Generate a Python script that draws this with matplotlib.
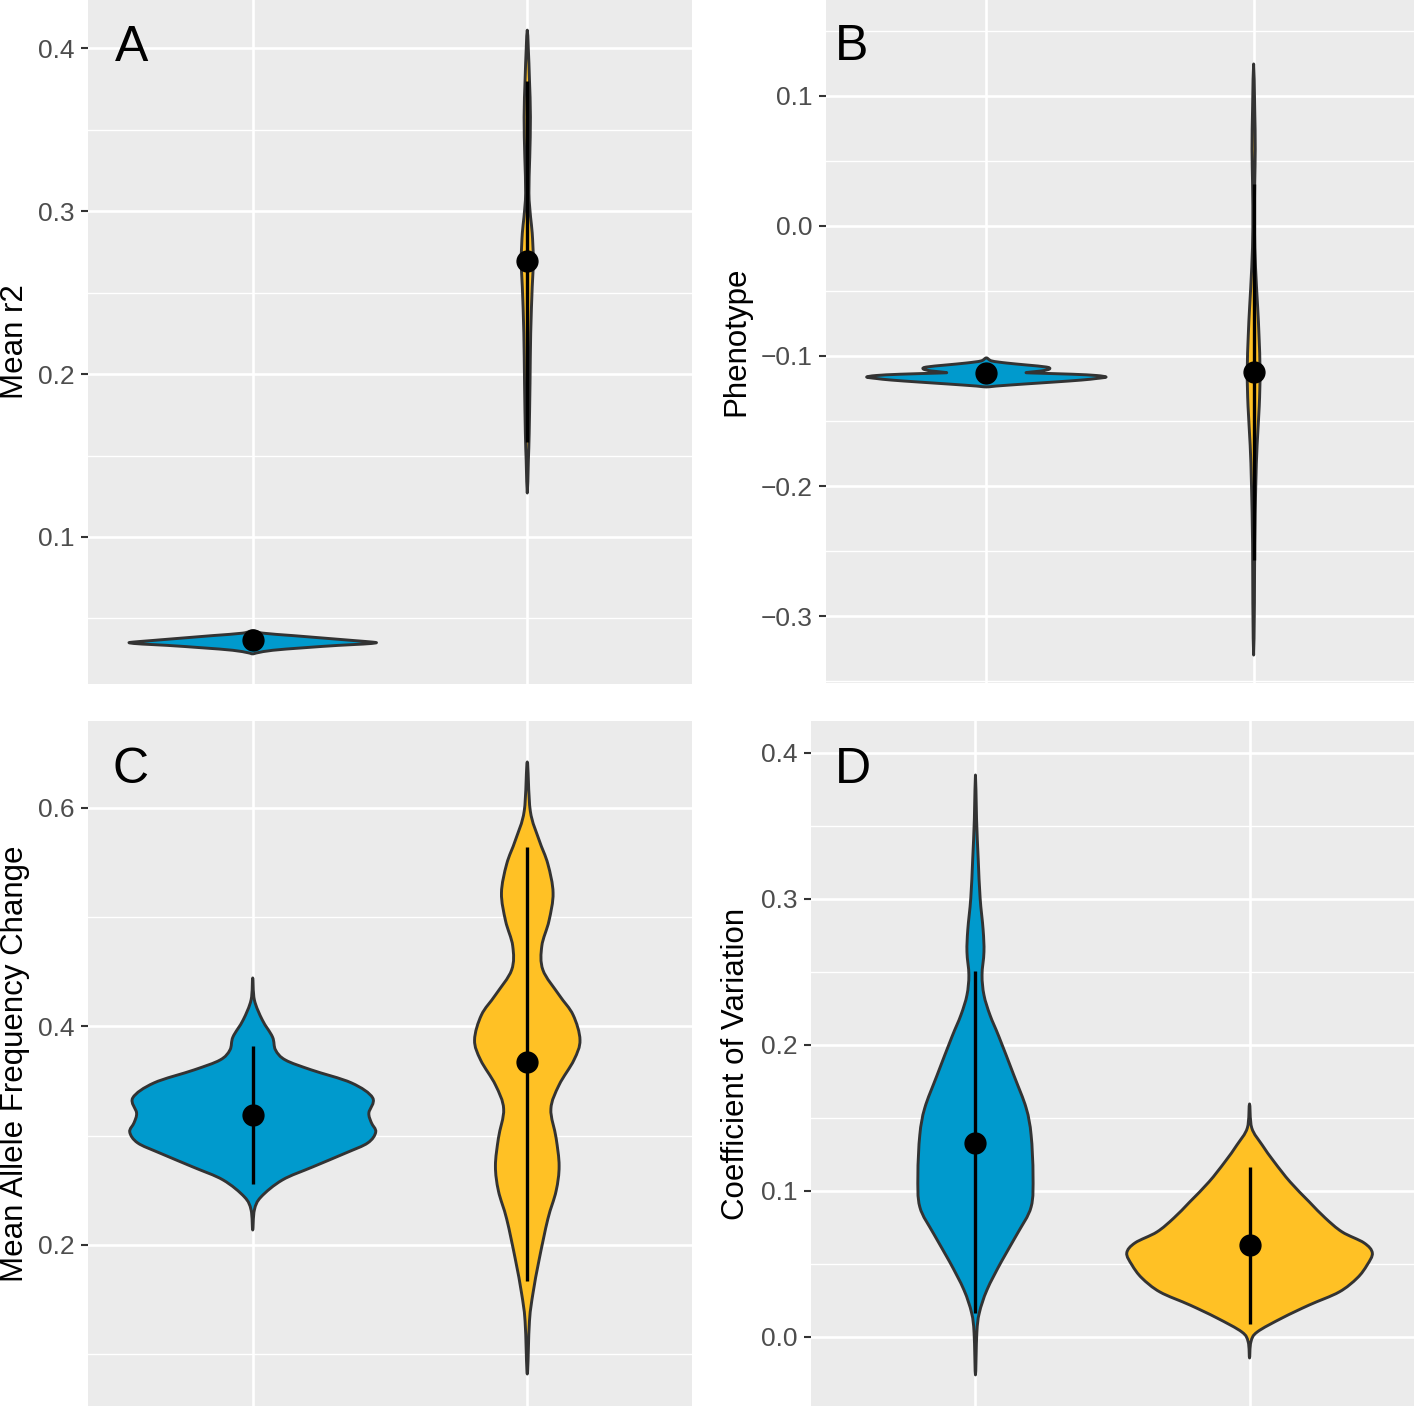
import numpy as np
import matplotlib
matplotlib.use("Agg")
import matplotlib.pyplot as plt
from matplotlib.path import Path
from matplotlib.patches import PathPatch

plt.rcParams['font.family'] = ['Liberation Sans', 'DejaVu Sans']

# ---------------- data ----------------
groups = ["group 1", "group 2"]
fill_colors = ["#009ACD", "#FFC125"]

# Panel A : Mean r2
a_g1_y = [0.0283, 0.0290, 0.0305, 0.0320, 0.0335, 0.0343, 0.0350, 0.0355, 0.0365, 0.0380, 0.0395, 0.0410, 0.0425]
a_g1_w = [0.000, 0.018, 0.073, 0.183, 0.311, 0.402, 0.448, 0.437, 0.365, 0.256, 0.146, 0.037, 0.000]
a_g2_y = [0.1270, 0.1472, 0.1638, 0.1945, 0.2252, 0.2534, 0.2699, 0.2865, 0.2963, 0.3110, 0.3331, 0.3577, 0.3804, 0.3988, 0.4110]
a_g2_w = [0.0, 0.004, 0.007, 0.010, 0.0125, 0.018, 0.022, 0.018, 0.012, 0.006, 0.009, 0.0115, 0.008, 0.004, 0.0]
a_mean = [0.0368, 0.2693]
a_lo = [0.0356, 0.158]
a_hi = [0.0380, 0.380]

# Panel B : Phenotype
b_g1_y = [-0.1238, -0.1231, -0.1215, -0.1200, -0.1185, -0.1173, -0.1162, -0.1150, -0.1140, -0.1131, -0.1127,
          -0.1115, -0.1100, -0.1085, -0.1069, -0.1054, -0.1038, -0.1015]
b_g1_w = [0.0, 0.037, 0.146, 0.255, 0.356, 0.412, 0.448, 0.412, 0.320, 0.176, 0.150,
          0.206, 0.236, 0.225, 0.150, 0.075, 0.020, 0.0]
b_g2_y = [-0.3300, -0.2900, -0.2446, -0.1992, -0.1685, -0.1385, -0.1123, -0.0838, -0.0623, -0.0315, -0.0015, 0.0323, 0.0592, 0.0900, 0.1246]
b_g2_w = [0.0, 0.003, 0.004, 0.008, 0.013, 0.021, 0.024, 0.020, 0.015, 0.007, 0.003, 0.004, 0.006, 0.004, 0.0]
b_mean = [-0.1131, -0.1123]
b_lo = [-0.1150, -0.257]
b_hi = [-0.1112, 0.032]

# Panel C : Mean Allele Frequency Change
c_g1_y = [0.2137, 0.2320, 0.2439, 0.2595, 0.2714, 0.2842, 0.2934, 0.3034, 0.3120, 0.3208, 0.3346, 0.3483, 0.3602,
          0.3693, 0.3785, 0.3904, 0.4059, 0.4243, 0.4444]
c_g1_w = [0.0, 0.006, 0.030, 0.108, 0.218, 0.339, 0.419, 0.448, 0.432, 0.423, 0.437, 0.360, 0.214,
          0.119, 0.083, 0.072, 0.035, 0.006, 0.0]
c_g2_y = [0.0819, 0.1304, 0.1561, 0.1863, 0.2238, 0.2494, 0.2723, 0.2979, 0.3245, 0.3465, 0.3693, 0.3876, 0.4105,
          0.4288, 0.4517, 0.4737, 0.4966, 0.5222, 0.5487, 0.5707, 0.5973, 0.6421]
c_g2_w = [0.0, 0.008, 0.021, 0.043, 0.075, 0.105, 0.116, 0.105, 0.086, 0.116, 0.170, 0.192, 0.167,
          0.116, 0.057, 0.053, 0.079, 0.094, 0.075, 0.043, 0.011, 0.0]
c_mean = [0.3190, 0.3675]
c_lo = [0.2558, 0.1670]
c_hi = [0.3822, 0.5643]

# Panel D : Coefficient of Variation
d_g1_y = [-0.0260, 0.0027, 0.0164, 0.0322, 0.0514, 0.0705, 0.0890, 0.1110, 0.1384, 0.1568, 0.1788, 0.2055, 0.2205,
          0.2342, 0.2479, 0.2637, 0.2788, 0.3007, 0.3274, 0.3548, 0.3849]
d_g1_w = [0.0, 0.005, 0.014, 0.042, 0.094, 0.152, 0.203, 0.210, 0.203, 0.185, 0.141, 0.086, 0.053,
          0.031, 0.024, 0.031, 0.028, 0.017, 0.010, 0.004, 0.0]
d_g2_y = [-0.0144, -0.0034, 0.0034, 0.0130, 0.0219, 0.0308, 0.0404, 0.0493, 0.0575, 0.0644, 0.0719, 0.0815,
          0.0925, 0.1062, 0.1199, 0.1315, 0.1432, 0.1596]
d_g2_w = [0.0, 0.005, 0.028, 0.119, 0.218, 0.327, 0.393, 0.429, 0.448, 0.418, 0.338, 0.276,
          0.218, 0.148, 0.090, 0.046, 0.008, 0.0]
d_mean = [0.1329, 0.0630]
d_lo = [0.0164, 0.0089]
d_hi = [0.2507, 0.1164]

# axis ticks / labels
a_ticks = [0.1, 0.2, 0.3, 0.4]
a_minor = [0.05, 0.15, 0.25, 0.35]
b_ticks = [-0.3, -0.2, -0.1, 0.0, 0.1]
b_minor = [-0.35, -0.25, -0.15, -0.05, 0.05, 0.15]
c_ticks = [0.2, 0.4, 0.6]
c_minor = [0.1, 0.3, 0.5]
d_ticks = [0.0, 0.1, 0.2, 0.3, 0.4]
d_minor = [0.05, 0.15, 0.25, 0.35]

a_ylim = (0.0098, 0.4295)
b_ylim = (-0.3515, 0.1738)
c_ylim = (0.0526, 0.6796)
d_ylim = (-0.0473, 0.4219)

ylabels = ["Mean r2", "Phenotype", "Mean Allele Frequency Change", "Coefficient of Variation"]
letters = ["A", "B", "C", "D"]

# ---------------- drawing ----------------
W, H = 1414, 1406
fig = plt.figure(figsize=(W / 100, H / 100), dpi=100)


def rect(left, right, top, bottom):
    return [left / W, 1 - bottom / H, (right - left) / W, (bottom - top) / H]


def smooth_closed_path(xs, ys):
    P = np.column_stack([xs, ys])
    n = len(P)
    verts = [P[0]]
    codes = [Path.MOVETO]
    for i in range(n):
        p0 = P[(i - 1) % n]
        p1 = P[i]
        p2 = P[(i + 1) % n]
        p3 = P[(i + 2) % n]
        c1 = p1 + (p2 - p0) / 6.0
        c2 = p2 - (p3 - p1) / 6.0
        verts += [c1, c2, p2]
        codes += [Path.CURVE4] * 3
    verts.append(P[0])
    codes.append(Path.CLOSEPOLY)
    return Path(verts, codes)


def draw_violin(ax, pos, y, w, color):
    y = np.asarray(y, float)
    w = np.asarray(w, float)
    left_x = pos - w
    right_x = pos + w
    xs = np.concatenate([left_x, right_x[-2:0:-1]])
    ys = np.concatenate([y, y[-2:0:-1]])
    path = smooth_closed_path(xs, ys)
    patch = PathPatch(path, facecolor=color, edgecolor="#333333", lw=2.1,
                      joinstyle="round", zorder=2)
    ax.add_patch(patch)


def fmt(v):
    s = "%.1f" % v
    if s == "-0.0":
        s = "0.0"
    return s.replace("-", "\u2212")


panels = [
    (rect(88, 692, 0, 684), [(a_g1_y, a_g1_w), (a_g2_y, a_g2_w)], a_mean, a_lo, a_hi,
     a_ticks, a_minor, a_ylim, -0.121, (0.0447, 0.9108)),
    (rect(826, 1414, 0, 683), [(b_g1_y, b_g1_w), (b_g2_y, b_g2_w)], b_mean, b_lo, b_hi,
     b_ticks, b_minor, b_ylim, -0.153, (0.0153, 0.912)),
    (rect(88, 692, 721, 1406), [(c_g1_y, c_g1_w), (c_g2_y, c_g2_w)], c_mean, c_lo, c_hi,
     c_ticks, c_minor, c_ylim, -0.121, (0.0406, 0.9095)),
    (rect(811, 1414, 721, 1406), [(d_g1_y, d_g1_w), (d_g2_y, d_g2_w)], d_mean, d_lo, d_hi,
     d_ticks, d_minor, d_ylim, -0.124, (0.0398, 0.9095)),
]

positions = np.arange(1, len(groups) + 1)

for k, (r, viol, mean, lo, hi, ticks, minor, ylim, labx, letpos) in enumerate(panels):
    ax = fig.add_axes(r)
    ax.set_facecolor("#EBEBEB")
    for s in ax.spines.values():
        s.set_visible(False)
    ax.set_axisbelow(True)
    ax.set_xlim(0.4, 2.6)
    ax.set_ylim(*ylim)
    ax.set_xticks(positions)
    ax.set_xticklabels([])
    ax.tick_params(axis="x", length=0)
    ax.set_yticks(ticks)
    ax.set_yticklabels([fmt(t) for t in ticks])
    ax.set_yticks(minor, minor=True)
    ax.tick_params(axis="y", which="major", length=5, width=1.5, color="#333333",
                   labelsize=19, labelcolor="#4D4D4D", pad=4.5)
    ax.tick_params(axis="y", which="minor", length=0)
    ax.grid(True, which="major", color="white", lw=1.9)
    ax.grid(True, which="minor", axis="y", color="white", lw=1.0)

    for pos, (vy, vw), col in zip(positions, viol, fill_colors):
        draw_violin(ax, pos, vy, vw, col)

    ax.vlines(positions, lo, hi, color="black", lw=2.4, zorder=3)
    ax.plot(positions, mean, "o", color="black", ms=15, zorder=4, linestyle="none")

    ax.set_ylabel(ylabels[k], fontsize=22.5, color="black")
    ax.yaxis.set_label_coords(labx, 0.5)
    ax.yaxis.label.set_verticalalignment("center")

    ax.text(letpos[0], letpos[1], letters[k], transform=ax.transAxes, fontsize=36,
            ha="left", va="baseline", color="black")

fig.savefig("out.png", dpi=100)
